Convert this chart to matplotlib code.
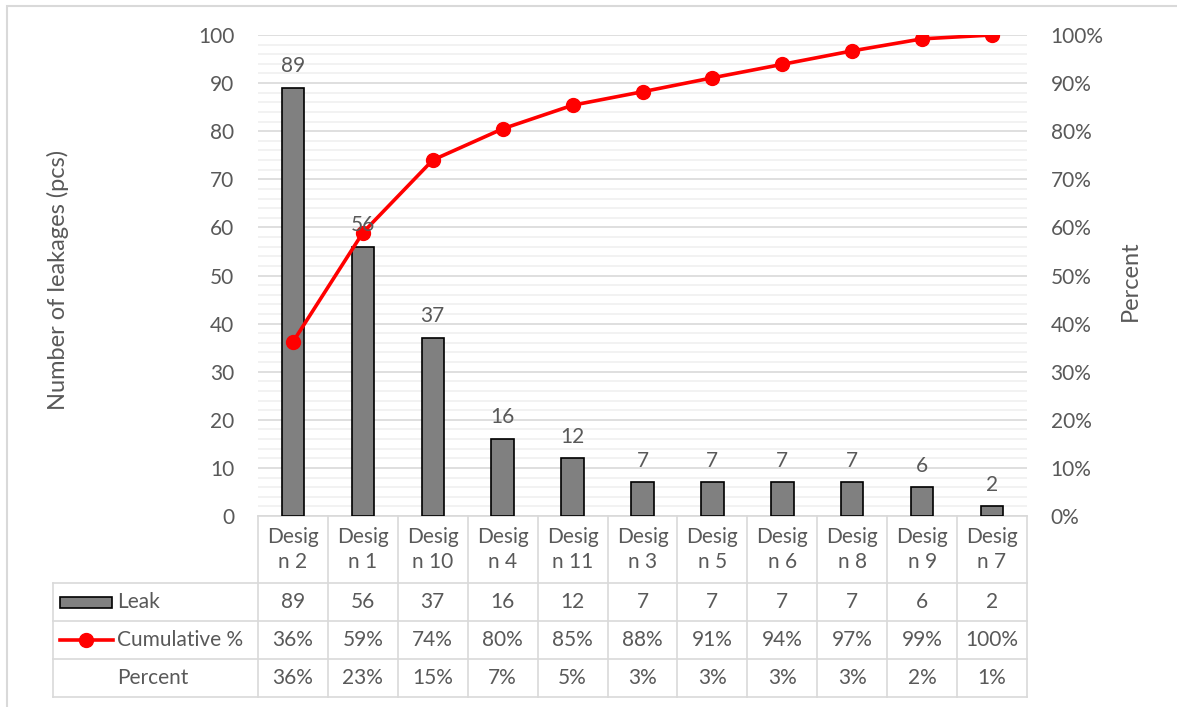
import matplotlib
matplotlib.use("Agg")
import matplotlib.pyplot as plt
from matplotlib.patches import Rectangle
from matplotlib.lines import Line2D
from matplotlib.ticker import MultipleLocator

plt.rcParams["font.family"] = ["Lato", "DejaVu Sans"]

# data
designs = ["Design 2", "Design 1", "Design 10", "Design 4", "Design 11", "Design 3",
           "Design 5", "Design 6", "Design 8", "Design 9", "Design 7"]
leak = [89, 56, 37, 16, 12, 7, 7, 7, 7, 6, 2]
cum_pct = [36.2, 58.9, 74.0, 80.5, 85.4, 88.2, 91.1, 93.9, 96.7, 99.2, 100.0]
cum_labels = ["36%", "59%", "74%", "80%", "85%", "88%", "91%", "94%", "97%", "99%", "100%"]
pct_labels = ["36%", "23%", "15%", "7%", "5%", "3%", "3%", "3%", "3%", "2%", "1%"]

W, H = 1177, 707
TXT = "#595959"
GRID = "#d9d9d9"
FS = 15

fig = plt.figure(figsize=(W / 100, H / 100), dpi=100)

# plot area in pixels
left, right, top, bottom = 258, 1027, 35, 516
ax = fig.add_axes([left / W, 1 - bottom / H, (right - left) / W, (bottom - top) / H])
x = list(range(len(designs)))

ax.bar(x, leak, width=0.32, color="#808080", edgecolor="black", linewidth=1.2, zorder=3)

ax.set_xlim(-0.5, len(designs) - 0.5)
ax.set_ylim(0, 100)
ax.yaxis.set_major_locator(MultipleLocator(10))
ax.yaxis.set_minor_locator(MultipleLocator(2))
ax.grid(axis="y", which="major", color=GRID, linewidth=1.2, zorder=0)
ax.grid(axis="y", which="minor", color="#f0f0f0", linewidth=1.2, zorder=0)
ax.set_xticks([])
ax.tick_params(axis="y", which="both", length=0, labelsize=FS, labelcolor=TXT, pad=17)
for s in ax.spines.values():
    s.set_visible(False)
ax.set_ylabel("Number of leakages (pcs)", fontsize=17, color=TXT, va="center")
ax.yaxis.set_label_coords((58 - left) / (right - left), 0.49)

ax2 = ax.twinx()
ax2.plot(x, cum_pct, color="red", linewidth=2.6, marker="o", markersize=10, zorder=4)
ax2.set_ylim(0, 100)
ax2.yaxis.set_major_locator(MultipleLocator(10))
ax2.set_yticklabels([f"{int(t)}%" for t in ax2.get_yticks()])
ax2.tick_params(axis="y", length=0, labelsize=FS, labelcolor=TXT, pad=17)
for s in ax2.spines.values():
    s.set_visible(False)
ax2.set_ylabel("Percent", fontsize=17, color=TXT, va="center")
ax2.yaxis.set_label_coords((1130 - left) / (right - left), 0.49)

# bar value labels (on top of the line, same 0-100 scale)
for xi, v in zip(x, leak):
    ax2.text(xi, v + 2.4, str(v), ha="center", va="bottom", fontsize=FS, color=TXT, zorder=6)

# data table below the axis
ph = bottom - top
def ay(ypx):
    return (bottom - ypx) / ph

rows = [516, 583, 621, 659, 697]
n = len(designs)
hdr_left = (53 - left) / (right - left)
T = ax.transAxes
for i in range(n + 1):
    ax.add_line(Line2D([i / n, i / n], [ay(rows[0]), ay(rows[-1])], transform=T,
                       color=GRID, linewidth=1.2, clip_on=False))
ax.add_line(Line2D([0, 1], [ay(rows[0])] * 2, transform=T, color=GRID, linewidth=1.2, clip_on=False))
for r in rows[1:]:
    ax.add_line(Line2D([hdr_left, 1], [ay(r)] * 2, transform=T, color=GRID,
                       linewidth=1.2, clip_on=False))
ax.add_line(Line2D([hdr_left, hdr_left], [ay(rows[1]), ay(rows[-1])], transform=T,
                   color=GRID, linewidth=1.2, clip_on=False))

row_y = [ay((rows[k] + rows[k + 1]) / 2) for k in range(4)]
for i, d in enumerate(designs):
    xc = (i + 0.5) / n
    name = d[:5] + "\n" + d[5:]
    ax.text(xc, row_y[0], name, transform=T, ha="center", va="center", fontsize=FS,
            color=TXT, linespacing=1.3)
    ax.text(xc, row_y[1], str(leak[i]), transform=T, ha="center", va="center", fontsize=FS, color=TXT)
    ax.text(xc, row_y[2], cum_labels[i], transform=T, ha="center", va="center", fontsize=FS, color=TXT)
    ax.text(xc, row_y[3], pct_labels[i], transform=T, ha="center", va="center", fontsize=FS, color=TXT)

# row headers with legend keys
def ax_x(xpx):
    return (xpx - left) / (right - left)

key_h = 11 / ph
ax.add_patch(Rectangle((ax_x(60), row_y[1] - key_h / 2), ax_x(112) - ax_x(60), key_h,
                       transform=T, facecolor="#808080", edgecolor="black",
                       linewidth=1.2, clip_on=False))
ax.add_line(Line2D([ax_x(60), ax_x(113)], [row_y[2]] * 2, transform=T, color="red",
                   linewidth=2.6, clip_on=False))
ax.add_line(Line2D([ax_x(86.5)], [row_y[2]], transform=T, color="red", marker="o",
                   markersize=10, clip_on=False))
for k, lab in zip([1, 2, 3], ["Leak", "Cumulative %", "Percent"]):
    ax.text(ax_x(117), row_y[k], lab, transform=T, ha="left", va="center", fontsize=FS, color=TXT)

# chart border
fig.patches.append(Rectangle((7 / W, -0.05), 1.2, 1 - 6 / H + 0.05, transform=fig.transFigure,
                             fill=False, edgecolor=GRID, linewidth=1.5))

fig.savefig("out.png", dpi=100)
